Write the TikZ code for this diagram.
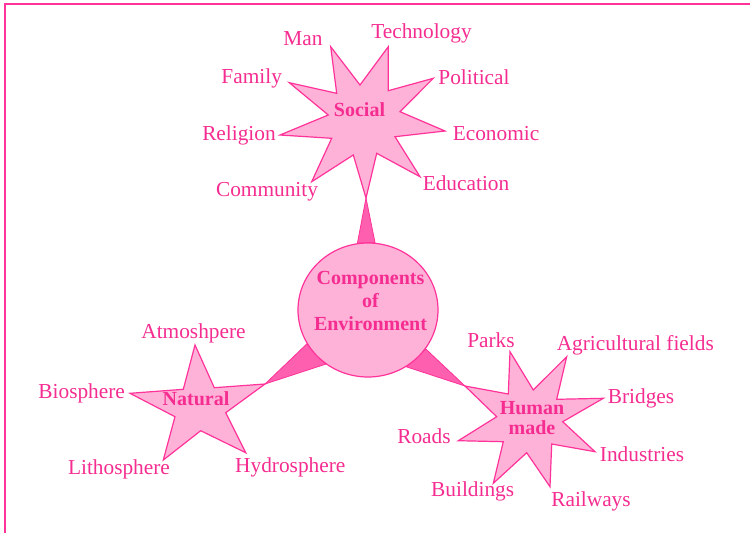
\documentclass[tikz,border=0pt]{standalone}
\usepackage{fontspec}
\setmainfont{Liberation Serif}
\usetikzlibrary{shapes.geometric}
\definecolor{pline}{RGB}{255,51,153}
\definecolor{pfill}{RGB}{255,178,216}
\definecolor{pwedge}{RGB}{255,95,175}
\definecolor{ptext}{RGB}{245,45,145}
\pgfdeclarelayer{paper}
\pgfdeclarelayer{under}
\pgfsetlayers{paper,under,main}
\begin{document}
\begin{tikzpicture}[x=0.75pt,y=-0.75pt,
  lab/.style={text=ptext, font=\fontsize{16}{18}\selectfont, anchor=base, inner sep=0pt},
  blab/.style={text=ptext, font=\fontsize{15}{17}\selectfont\bfseries, inner sep=0pt, align=center},
  starshape/.style={fill=pfill, draw=pline, line width=0.9pt, line join=miter},
  wedge/.style={fill=pwedge, draw=pline, line width=0.6pt, line join=miter},
  hub/.style={ellipse, minimum width=105pt, minimum height=100.5pt, inner sep=0pt, fill=pfill, draw=pline, line width=0.9pt}]
\useasboundingbox (0,0) rectangle (750,533);
\begin{pgfonlayer}{paper}
\fill[white] (0,0) rectangle (750,533);
\draw[pline, line width=1.5pt] (750,4) -- (5,4) -- (5,533);
\end{pgfonlayer}

% ---------- Social star (9 points) ----------
\coordinate (s1) at (330.7,46.7);
\coordinate (s2) at (388.3,46.7);
\coordinate (s3) at (433.3,78.3);
\coordinate (s4) at (445,131);
\coordinate (s5) at (420,176.7);
\coordinate (s6) at (366,198);
\coordinate (s7) at (311.7,181.7);
\coordinate (s8) at (280,135);
\coordinate (s9) at (289.3,82.7);
\draw[starshape] (s1) -- (360,85) -- (s2) -- (388.3,90.7) -- (s3) -- (400,111.7) -- (s4)
  -- (395,136.7) -- (s5) -- (376.7,153.3) -- (s6) -- (353.3,155) -- (s7) -- (331.7,138.3)
  -- (s8) -- (328.3,115) -- (s9) -- (336.7,93.3) -- cycle;

% ---------- Natural star (5 points) ----------
\coordinate (n1) at (195,345);
\coordinate (n2) at (265,384);
\coordinate (n3) at (245.7,452.7);
\coordinate (n4) at (163.3,460);
\coordinate (n5) at (130,393.3);
\draw[starshape] (n1) -- (214.3,387.7) -- (n2) -- (225.7,412.7) -- (n3) -- (200.7,430.7)
  -- (n4) -- (175,416.7) -- (n5) -- (183.3,389.3) -- cycle;

% ---------- Human made star (8 points) ----------
\coordinate (h1) at (510,351.7);
\coordinate (h2) at (566.7,356.7);
\coordinate (h3) at (603.3,398.3);
\coordinate (h4) at (595,451.7);
\coordinate (h5) at (550,486.7);
\coordinate (h6) at (493.3,483.3);
\coordinate (h7) at (458.3,440.7);
\coordinate (h8) at (465,386);
\draw[starshape] (h1) -- (533.3,390) -- (h2) -- (556.7,399.3) -- (h3) -- (562.7,421.7)
  -- (h4) -- (551.7,444) -- (h5) -- (526.7,452.7) -- (h6) -- (503.3,441.7) -- (h7)
  -- (496.7,416.7) -- (h8) -- (508.3,394) -- cycle;

% ---------- hub ----------
\node[hub] (env) at (368,310) {};
\node[blab, font=\fontsize{15}{16.9}\selectfont\bfseries] (envtext) at (370.5,301) {Components\\of\\Environment};

% ---------- wedges ----------
\begin{pgfonlayer}{under}
\draw[wedge] (env.84) -- (s6) -- (env.99) -- cycle;
\draw[wedge] (env.209) -- (n2) -- (env.232) -- cycle;
\draw[wedge] (env.304) -- (h8) -- (env.326) -- cycle;
\end{pgfonlayer}

% ---------- star titles ----------
\node[blab, anchor=base] (social) at (359.5,116.7) {Social};
\node[blab, anchor=base] (natural) at (196,405) {Natural};
\node[blab, font=\fontsize{15}{15}\selectfont\bfseries] (human) at (532,418) {Human\\made};

% ---------- labels ----------
\node[lab] (man) at (303,45) {Man};
\node[lab] (tech) at (421.5,38.5) {Technology};
\node[lab] (family) at (251.7,83.3) {Family};
\node[lab] (political) at (474,84) {Political};
\node[lab] (religion) at (239,140) {Religion};
\node[lab] (economic) at (496,140) {Economic};
\node[lab] (community) at (267,196.7) {Community};
\node[lab] (education) at (466,190) {Education};

\node[lab] (atmo) at (193.5,338.3) {Atmoshpere};
\node[lab] (bio) at (81.7,398.3) {Biosphere};
\node[lab] (litho) at (119,474.3) {Lithosphere};
\node[lab] (hydro) at (290.3,472.7) {Hydrosphere};

\node[lab] (parks) at (491,347.3) {Parks};
\node[lab] (agri) at (635.3,350) {Agricultural fields};
\node[lab] (bridges) at (641,403.3) {Bridges};
\node[lab] (roads) at (424,443.3) {Roads};
\node[lab] (industries) at (642,461.7) {Industries};
\node[lab] (buildings) at (472.7,496.7) {Buildings};
\node[lab] (railways) at (591,506.7) {Railways};
\end{tikzpicture}
\end{document}
